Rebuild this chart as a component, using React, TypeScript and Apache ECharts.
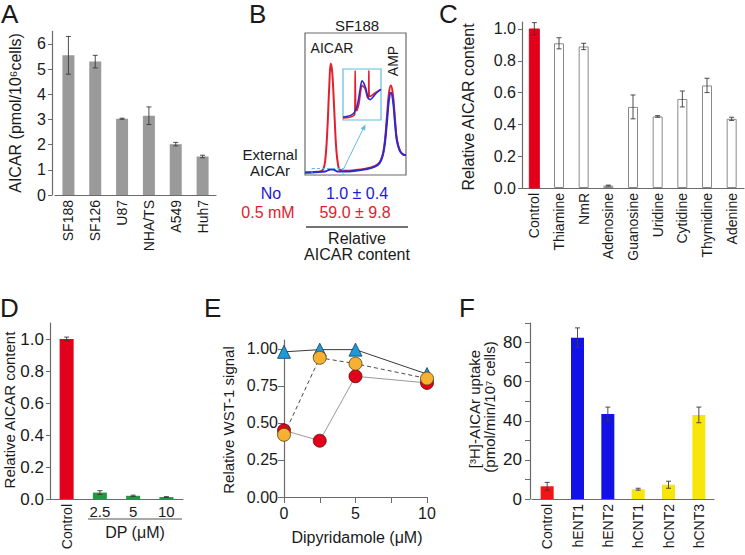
import { useEffect, useRef } from "react";
import * as echarts from "echarts";

const FONT = "'Liberation Sans', Arial, Helvetica, sans-serif";
const TXT = "#1a1a1a";
const AXIS = "#6b6b6b";
const ERR = "#3a3a3a";

// Panel A
const aCategories = ["SF188", "SF126", "U87", "NHA/TS", "A549", "Huh7"];
const aValues = [5.55, 5.3, 3.03, 3.15, 2.02, 1.53];
const aErrors = [0.75, 0.25, 0.02, 0.35, 0.07, 0.05];
const aTicks = [0, 1, 2, 3, 4, 5, 6];

// Panel B (chromatogram traces, relative units 0-100)
const bRedTrace = [
  [0, 2], [5, 2], [10, 2.2], [15, 2.5], [18, 4], [20, 10], [22, 30], [24, 62], [25.5, 78.5],
  [27, 72], [29, 45], [31, 18], [33, 6], [35, 3.5], [40, 3], [50, 3.5], [60, 4.5], [68, 6],
  [74, 9], [78, 18], [81, 40], [83, 57], [85, 63], [87, 57], [89, 40], [91, 25], [94, 17],
  [97, 14.5], [100, 14],
];
const bBlueTrace = [
  [0, 1.5], [10, 2], [20, 2.5], [25, 3.8], [28, 3.8], [32, 2.5], [40, 2.5], [50, 3], [60, 4],
  [68, 5.5], [74, 8.5], [78, 17], [81, 36], [83, 52], [85, 58], [87, 53], [89, 38], [91, 24],
  [94, 17], [97, 14.5], [100, 14],
];
const bInsetRed = [
  [0, 4], [15, 5], [27, 8], [31, 12], [32, 97], [33.5, 25], [36, 18], [42, 32], [50, 68],
  [58, 62], [64, 45], [67, 42], [68, 97], [69.5, 46], [76, 48], [86, 54], [100, 60],
];
const bInsetBlue = [
  [0, 6], [10, 7], [20, 9], [30, 15], [38, 30], [45, 60], [50, 77], [55, 72], [60, 62],
  [66, 44], [72, 40], [78, 44], [88, 53], [100, 60],
];
const bConditions = ["No", "0.5 mM"];
const bRelative = ["1.0 ± 0.4", "59.0 ± 9.8"];

// Panel C
const cCategories = ["Control", "Thiamine", "NmR", "Adenosine", "Guanosine", "Uridine", "Cytidine", "Thymidine", "Adenine"];
const cValues = [1.0, 0.91, 0.89, 0.015, 0.51, 0.45, 0.56, 0.645, 0.435];
const cErrors = [0.04, 0.035, 0.02, 0.003, 0.075, 0.005, 0.05, 0.045, 0.01];
const cTicks = [0, 0.2, 0.4, 0.6, 0.8, 1.0];

// Panel D
const dCategories = ["Control", "2.5", "5", "10"];
const dValues = [1.0, 0.04, 0.02, 0.012];
const dErrors = [0.012, 0.012, 0.004, 0.003];
const dTicks = [0, 0.2, 0.4, 0.6, 0.8, 1.0];

// Panel E
const eDoses = [0, 2.5, 5, 10];
const eTriangle = [0.98, 0.995, 0.995, 0.83];
const eOrange = [0.42, 0.94, 0.9, 0.8];
const eRed = [0.45, 0.38, 0.815, 0.77];
const eOrangeErr = [0.01, 0.01, 0.035, 0.01];
const eRedErr = [0.01, 0.01, 0.025, 0.01];
const eYTicks = [0, 0.25, 0.5, 0.75, 1.0];
const eXTicks = [0, 2.5, 5, 7.5, 10];
const eXLabels = [0, 5, 10];

// Panel F
const fCategories = ["Control", "hENT1", "hENT2", "hCNT1", "hCNT2", "hCNT3"];
const fValues = [6.5, 82.5, 43.5, 5, 7.3, 43];
const fErrors = [2, 5, 3.5, 0.5, 1.8, 4];
const fTicks = [0, 10, 20, 30, 40, 50, 60, 70, 80, 90];
const fLabels = [0, 20, 40, 60, 80];

const RED = "#e2001a";

function errRender(params: any, api: any) {
  const x = api.value(0);
  const lo = api.coord([x, api.value(1)]);
  const hi = api.coord([x, api.value(2)]);
  const w = 2.5;
  const st = { stroke: ERR, lineWidth: 0.9 };
  return {
    type: "group",
    children: [
      { type: "line", shape: { x1: lo[0], y1: lo[1], x2: hi[0], y2: hi[1] }, style: st },
      { type: "line", shape: { x1: lo[0] - w, y1: lo[1], x2: lo[0] + w, y2: lo[1] }, style: st },
      { type: "line", shape: { x1: hi[0] - w, y1: hi[1], x2: hi[0] + w, y2: hi[1] }, style: st },
    ],
  };
}

function errData(values: number[], errors: number[], xs?: number[]) {
  return values.map((v, i) => [xs ? xs[i] : i, v - errors[i], v + errors[i]]);
}

function catAxis(gridIndex: number, data: string[], fontSize: number, extra: any = {}) {
  return {
    type: "category",
    gridIndex,
    data,
    position: "bottom",
    axisLine: { show: true, lineStyle: { color: AXIS, width: 1.2 } },
    axisTick: { show: false },
    axisLabel: { rotate: 90, margin: 5, fontSize, color: TXT, fontFamily: FONT },
    ...extra,
  };
}

function valAxis(gridIndex: number, max: number, ticks: number[], fmt: (v: number) => string, fontSize: number, extra: any = {}) {
  return {
    type: "value",
    gridIndex,
    min: 0,
    max,
    splitLine: { show: false },
    axisLine: { show: true, lineStyle: { color: AXIS, width: 1.2 } },
    axisTick: { show: true, length: 4, customValues: ticks, lineStyle: { color: AXIS } },
    axisLabel: { customValues: ticks, formatter: fmt, fontSize, color: TXT, fontFamily: FONT, margin: 6 },
    ...extra,
  };
}

function txt(text: string, x: number, y: number, size: number, extra: any = {}, rot = 0) {
  return {
    type: "text",
    x,
    y,
    rotation: rot,
    style: {
      text,
      fontSize: size,
      fontFamily: FONT,
      fill: TXT,
      align: "center",
      verticalAlign: "middle",
      ...extra,
    },
  };
}

export default function App() {
  const ref = useRef<HTMLDivElement>(null);
  useEffect(() => {
    if (!ref.current) return;
    const chart = echarts.init(ref.current, null, { renderer: "svg" });
    const R = Math.PI / 2;
    const option: any = {
      animation: false,
      backgroundColor: "#ffffff",
      textStyle: { fontFamily: FONT },
      grid: [
        { left: 55, top: 31.4, width: 161, height: 163.6 }, // A
        { left: 305, top: 33, width: 101, height: 142, show: true, borderColor: "#6b6b6b", borderWidth: 1.2, backgroundColor: "transparent" }, // B
        { left: 343, top: 69, width: 38, height: 51, show: true, borderColor: "#63bde0", borderWidth: 1.2, backgroundColor: "transparent" }, // B inset
        { left: 522, top: 22, width: 222, height: 166 }, // C
        { left: 50, top: 323, width: 133, height: 176 }, // D
        { left: 284, top: 340, width: 143, height: 157 }, // E
        { left: 532, top: 323, width: 182, height: 176 }, // F
      ],
      xAxis: [
        catAxis(0, aCategories, 14),
        { type: "value", gridIndex: 1, min: 0, max: 100, show: false },
        { type: "value", gridIndex: 2, min: 0, max: 100, show: false },
        catAxis(3, cCategories, 14),
        catAxis(4, dCategories, 14, {
          axisLabel: { rotate: 90, margin: 5, fontSize: 14, color: TXT, fontFamily: FONT, formatter: (v: string) => (v === "Control" ? v : "") },
        }),
        catAxis(4, dCategories, 15, {
          axisLine: { show: false },
          axisLabel: { rotate: 0, margin: 5, fontSize: 15, color: TXT, fontFamily: FONT, formatter: (v: string) => (v === "Control" ? "" : v) },
        }),
        {
          type: "value",
          gridIndex: 5,
          min: 0,
          max: 10,
          splitLine: { show: false },
          axisLine: { show: true, lineStyle: { color: AXIS, width: 1.2 } },
          axisTick: { show: true, length: 6, customValues: eXTicks, lineStyle: { color: AXIS } },
          axisLabel: { customValues: eXLabels, fontSize: 16, color: TXT, fontFamily: FONT, margin: 8 },
        },
        catAxis(6, fCategories, 14),
      ],
      yAxis: [
        valAxis(0, 6.5, aTicks, (v: number) => String(v), 16, { offset: 3 }),
        { type: "value", gridIndex: 1, min: 0, max: 100, show: false },
        { type: "value", gridIndex: 2, min: 0, max: 100, show: false },
        valAxis(3, 1.044, cTicks, (v: number) => v.toFixed(1), 16),
        valAxis(4, 1.1, dTicks, (v: number) => v.toFixed(1), 17),
        valAxis(5, 1.06, eYTicks, (v: number) => v.toFixed(2), 16, {
          axisTick: { show: true, length: 6, customValues: eYTicks, lineStyle: { color: AXIS } },
        }),
        valAxis(6, 90, fTicks, (v: number) => String(v), 17, {
          offset: 2,
          axisTick: { show: true, length: 5, customValues: fTicks, lineStyle: { color: AXIS } },
          axisLabel: { customValues: fLabels, fontSize: 17, color: TXT, fontFamily: FONT, margin: 8 },
        }),
      ],
      series: [
        // A
        { type: "bar", xAxisIndex: 0, yAxisIndex: 0, data: aValues, barWidth: 12, itemStyle: { color: "#9a9a9a" } },
        { type: "custom", xAxisIndex: 0, yAxisIndex: 0, data: errData(aValues, aErrors), renderItem: errRender, encode: { x: 0, y: [1, 2] }, z: 5 },
        // B
        { type: "line", xAxisIndex: 1, yAxisIndex: 1, data: bRedTrace, smooth: 0.4, showSymbol: false, lineStyle: { color: "#e3202c", width: 2 } },
        { type: "line", xAxisIndex: 1, yAxisIndex: 1, data: bBlueTrace, smooth: 0.4, showSymbol: false, lineStyle: { color: "#2a2ad2", width: 2 } },
        { type: "line", xAxisIndex: 2, yAxisIndex: 2, data: bInsetRed, smooth: 0.2, showSymbol: false, lineStyle: { color: "#e3202c", width: 1.6 } },
        { type: "line", xAxisIndex: 2, yAxisIndex: 2, data: bInsetBlue, smooth: 0.3, showSymbol: false, lineStyle: { color: "#2a2ad2", width: 1.6 } },
        // C
        {
          type: "bar",
          xAxisIndex: 3,
          yAxisIndex: 3,
          barWidth: 10,
          data: cValues.map((v, i) =>
            i === 0
              ? { value: v, itemStyle: { color: RED, borderColor: RED } }
              : { value: v, itemStyle: { color: "#ffffff", borderColor: "#8a8a8a", borderWidth: 1 } }
          ),
        },
        { type: "custom", xAxisIndex: 3, yAxisIndex: 3, data: errData(cValues, cErrors), renderItem: errRender, encode: { x: 0, y: [1, 2] }, z: 5 },
        // D
        {
          type: "bar",
          xAxisIndex: 4,
          yAxisIndex: 4,
          barWidth: 14,
          data: dValues.map((v, i) => ({ value: v, itemStyle: { color: i === 0 ? RED : "#1f9a3e" } })),
        },
        { type: "custom", xAxisIndex: 4, yAxisIndex: 4, data: errData(dValues, dErrors), renderItem: errRender, encode: { x: 0, y: [1, 2] }, z: 5 },
        // E
        {
          type: "line", xAxisIndex: 6, yAxisIndex: 5, data: eDoses.map((d, i) => [d, eRed[i]]),
          symbol: "circle", symbolSize: 13,
          itemStyle: { color: RED, borderColor: "#5a1010", borderWidth: 0.8 },
          lineStyle: { color: "#9a9a9a", width: 1 }, z: 3,
        },
        {
          type: "line", xAxisIndex: 6, yAxisIndex: 5, data: eDoses.map((d, i) => [d, eTriangle[i]]),
          symbol: "triangle", symbolSize: 13,
          itemStyle: { color: "#1d9ad8", borderColor: "#1a3a5a", borderWidth: 0.8 },
          lineStyle: { color: "#3a3a3a", width: 1 }, z: 4,
        },
        {
          type: "line", xAxisIndex: 6, yAxisIndex: 5, data: eDoses.map((d, i) => [d, eOrange[i]]),
          symbol: "circle", symbolSize: 13,
          itemStyle: { color: "#f6b133", borderColor: "#5a4010", borderWidth: 0.8 },
          lineStyle: { color: "#4a4a4a", width: 1, type: [4, 3] }, z: 5,
        },
        { type: "custom", xAxisIndex: 6, yAxisIndex: 5, data: errData(eOrange, eOrangeErr, eDoses), renderItem: errRender, encode: { x: 0, y: [1, 2] }, z: 2 },
        { type: "custom", xAxisIndex: 6, yAxisIndex: 5, data: errData(eRed, eRedErr, eDoses), renderItem: errRender, encode: { x: 0, y: [1, 2] }, z: 2 },
        // F
        {
          type: "bar",
          xAxisIndex: 7,
          yAxisIndex: 6,
          barWidth: 13,
          data: fValues.map((v, i) => ({
            value: v,
            itemStyle: { color: i === 0 ? "#f41414" : i <= 2 ? "#1212e6" : "#f8e60a" },
          })),
        },
        { type: "custom", xAxisIndex: 7, yAxisIndex: 6, data: errData(fValues, fErrors), renderItem: errRender, encode: { x: 0, y: [1, 2] }, z: 5 },
      ],
      graphic: [
        // panel letters
        txt("A", 1, 14, 26, { align: "left" }),
        txt("B", 249, 14, 26, { align: "left" }),
        txt("C", 439, 14, 26, { align: "left" }),
        txt("D", 0, 308, 26, { align: "left" }),
        txt("E", 204, 308, 26, { align: "left" }),
        txt("F", 459, 308, 26, { align: "left" }),
        // axis titles
        txt("AICAR (pmol/10⁶cells)", 15, 113, 16, {}, R),
        txt("Relative AICAR content", 468, 107, 16, {}, R),
        txt("Relative AICAR content", 9, 410, 15, {}, R),
        txt("Relative WST-1 signal", 228, 420, 15, {}, R),
        txt("[³H]-AICAr uptake", 474, 409, 15, {}, R),
        txt("(pmol/min/10⁷ cells)", 489, 407, 15, {}, R),
        txt("Dipyridamole (μM)", 357, 537, 16),
        // D group line
        { type: "line", shape: { x1: 88, y1: 519, x2: 182, y2: 519 }, style: { stroke: "#555", lineWidth: 1 } },
        txt("DP (μM)", 135, 532, 16),
        // B texts
        txt("SF188", 357, 25, 15),
        txt("AICAR", 332, 48, 14),
        txt("AMP", 393, 61, 14, {}, R),
        txt("External", 270, 154, 15),
        txt("AICAr", 270, 170, 15),
        txt(bConditions[0], 271, 193, 16, { fill: "#1a1ad8" }),
        txt(bConditions[1], 268, 212, 16, { fill: "#e3202c" }),
        txt(bRelative[0], 357, 193, 16, { fill: "#1a1ad8" }),
        txt(bRelative[1], 355, 212, 16, { fill: "#e3202c" }),
        { type: "line", shape: { x1: 306, y1: 227, x2: 408, y2: 227 }, style: { stroke: "#444", lineWidth: 1.6 } },
        txt("Relative", 357, 238, 16),
        txt("AICAR content", 357, 254, 16),
        // B inset decorations
        { type: "rect", shape: { x: 312, y: 168.5, width: 31, height: 7 }, style: { fill: "none", stroke: "#63bde0", lineWidth: 1, lineDash: [3, 2] }, z: 10 },
        { type: "line", shape: { x1: 343, y1: 170, x2: 364, y2: 127 }, style: { stroke: "#63bde0", lineWidth: 1 }, z: 10 },
        { type: "polygon", shape: { points: [[365.5, 124.5], [360.6, 128.6], [365.2, 130.8]] }, style: { fill: "#63bde0" }, z: 10 },
      ],
    };
    chart.setOption(option);
    return () => chart.dispose();
  }, []);
  return <div ref={ref} style={{ width: 745, height: 555, position: "absolute", left: 0, top: 0 }} />;
}
